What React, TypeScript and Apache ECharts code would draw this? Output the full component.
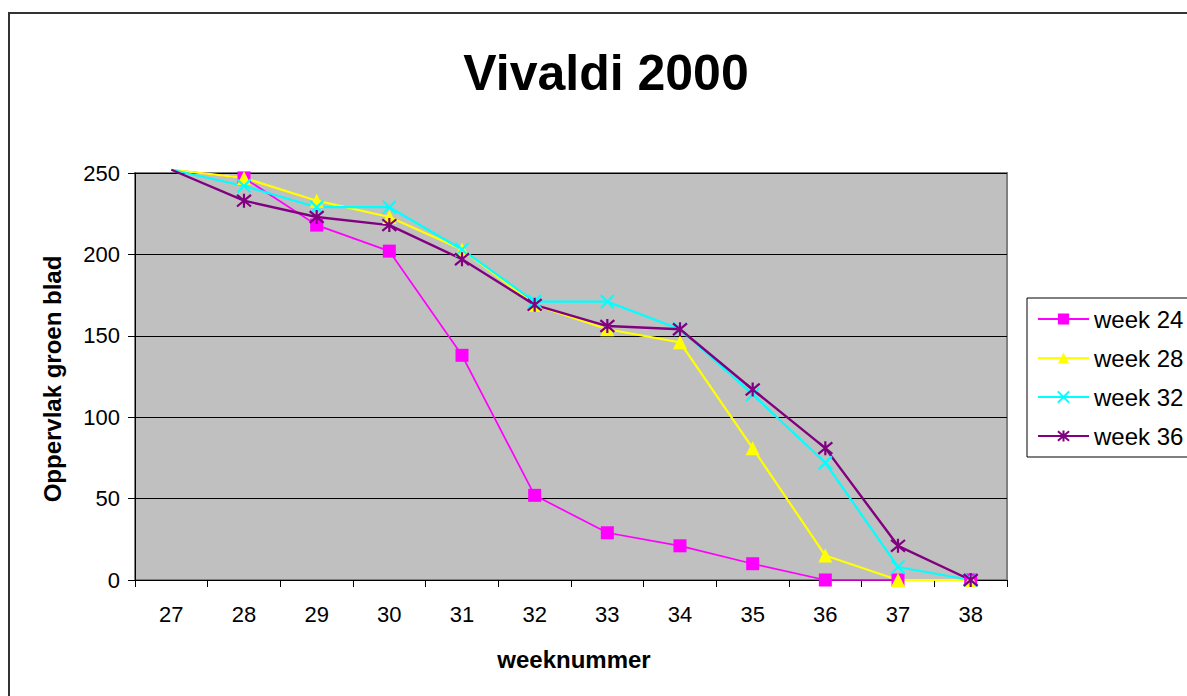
import React, { useEffect, useRef } from "react";
import * as echarts from "echarts";

const categories = ["27", "28", "29", "30", "31", "32", "33", "34", "35", "36", "37", "38"];
const seriesNames = ["week 24", "week 28", "week 32", "week 36"];
const week24 = [252, 247, 218, 202, 138, 52, 29, 21, 10, 0, 0, 0];
const week28 = [252, 247, 233, 223, 203, 169, 154, 146, 81, 15, 0, 0];
const week32 = [252, 242, 229, 229, 203, 171, 171, 154, 114, 72, 8, 0];
const week36 = [252, 233, 223, 218, 197, 169, 156, 154, 117, 81, 21, 0];
const yTicks = { min: 0, max: 250, interval: 50 };

const FONT = "'Liberation Sans', Arial, Helvetica, sans-serif";

const X_PATH = "path://M0,0L10,10M10,0L0,10";
const STAR_PATH = "path://M0,0L10,10M10,0L0,10M5,-1L5,11";

function firstNoSymbol(arr: number[]) {
  return arr.map((v, i) => (i === 0 ? { value: v, symbol: "none" } : v));
}

export default function App() {
  const ref = useRef<HTMLDivElement>(null);
  useEffect(() => {
    if (!ref.current) return;
    const chart = echarts.init(ref.current, undefined, { renderer: "svg" });
    const mk = (name: string, data: number[], color: string, symbol: string, size: number, width: number, stroke: boolean) => ({
      name,
      type: "line",
      data: firstNoSymbol(data),
      clip: false,
      symbol,
      symbolSize: size,
      showAllSymbol: true,
      lineStyle: { color, width },
      itemStyle: stroke
        ? { color, borderColor: color, borderWidth: 2.2 }
        : { color, borderWidth: 0 },
      emphasis: { disabled: true },
    });
    chart.setOption({
      animation: false,
      backgroundColor: "#ffffff",
      textStyle: { fontFamily: FONT },
      grid: {
        left: 135,
        top: 173,
        right: 180,
        bottom: 116,
        show: true,
        backgroundColor: "#c0c0c0",
        borderColor: "#808080",
        borderWidth: 2,
      },
      legend: {
        orient: "vertical",
        left: 1027,
        top: 298,
        padding: [9, 10, 9, 10],
        itemWidth: 51,
        itemHeight: 14,
        itemGap: 15,
        borderColor: "#000000",
        borderWidth: 1,
        backgroundColor: "#ffffff",
        textStyle: { fontFamily: FONT, fontSize: 24, color: "#000", lineHeight: 24 },
        data: seriesNames,
      },
      xAxis: {
        type: "category",
        data: categories,
        boundaryGap: true,
        axisLine: { lineStyle: { color: "#000", width: 1 } },
        axisTick: { show: true, length: 7, lineStyle: { color: "#000" } },
        axisLabel: { fontFamily: FONT, fontSize: 22, color: "#000", margin: 23 },
        splitLine: { show: false },
      },
      yAxis: {
        type: "value",
        min: yTicks.min,
        max: yTicks.max,
        interval: yTicks.interval,
        axisLine: { show: true, lineStyle: { color: "#000", width: 1 } },
        axisTick: { show: true, length: 7, lineStyle: { color: "#000" } },
        axisLabel: { fontFamily: FONT, fontSize: 22, color: "#000", margin: 15 },
        splitLine: { show: true, lineStyle: { color: "#000", width: 1 } },
      },
      graphic: [
        {
          type: "rect",
          shape: { x: 9, y: 13, width: 1300, height: 800 },
          style: { fill: "none", stroke: "#333333", lineWidth: 2 },
          silent: true,
        },
        {
          type: "text",
          x: 606,
          y: 73,
          style: {
            text: "Vivaldi 2000",
            fontFamily: FONT,
            fontSize: 50,
            fontWeight: "bold",
            fill: "#000",
            textAlign: "center",
            textVerticalAlign: "middle",
          },
        },
        {
          type: "text",
          x: 574,
          y: 659,
          style: {
            text: "weeknummer",
            fontFamily: FONT,
            fontSize: 24,
            fontWeight: "bold",
            fill: "#000",
            textAlign: "center",
            textVerticalAlign: "middle",
          },
        },
        {
          type: "text",
          x: 52,
          y: 379,
          rotation: Math.PI / 2,
          style: {
            text: "Oppervlak groen blad",
            fontFamily: FONT,
            fontSize: 24,
            fontWeight: "bold",
            fill: "#000",
            textAlign: "center",
            textVerticalAlign: "middle",
          },
        },
      ],
      series: [
        mk(seriesNames[0], week24, "#ff00ff", "rect", 13, 1.7, false),
        mk(seriesNames[1], week28, "#ffff00", "triangle", 14, 2.2, false),
        mk(seriesNames[2], week32, "#00ffff", X_PATH, 13, 2.2, true),
        mk(seriesNames[3], week36, "#800080", STAR_PATH, 14, 2.4, true),
      ],
    });
    return () => chart.dispose();
  }, []);
  return (
    <div
      ref={ref}
      style={{ position: "absolute", left: 0, top: 0, width: 1187, height: 696 }}
    />
  );
}
